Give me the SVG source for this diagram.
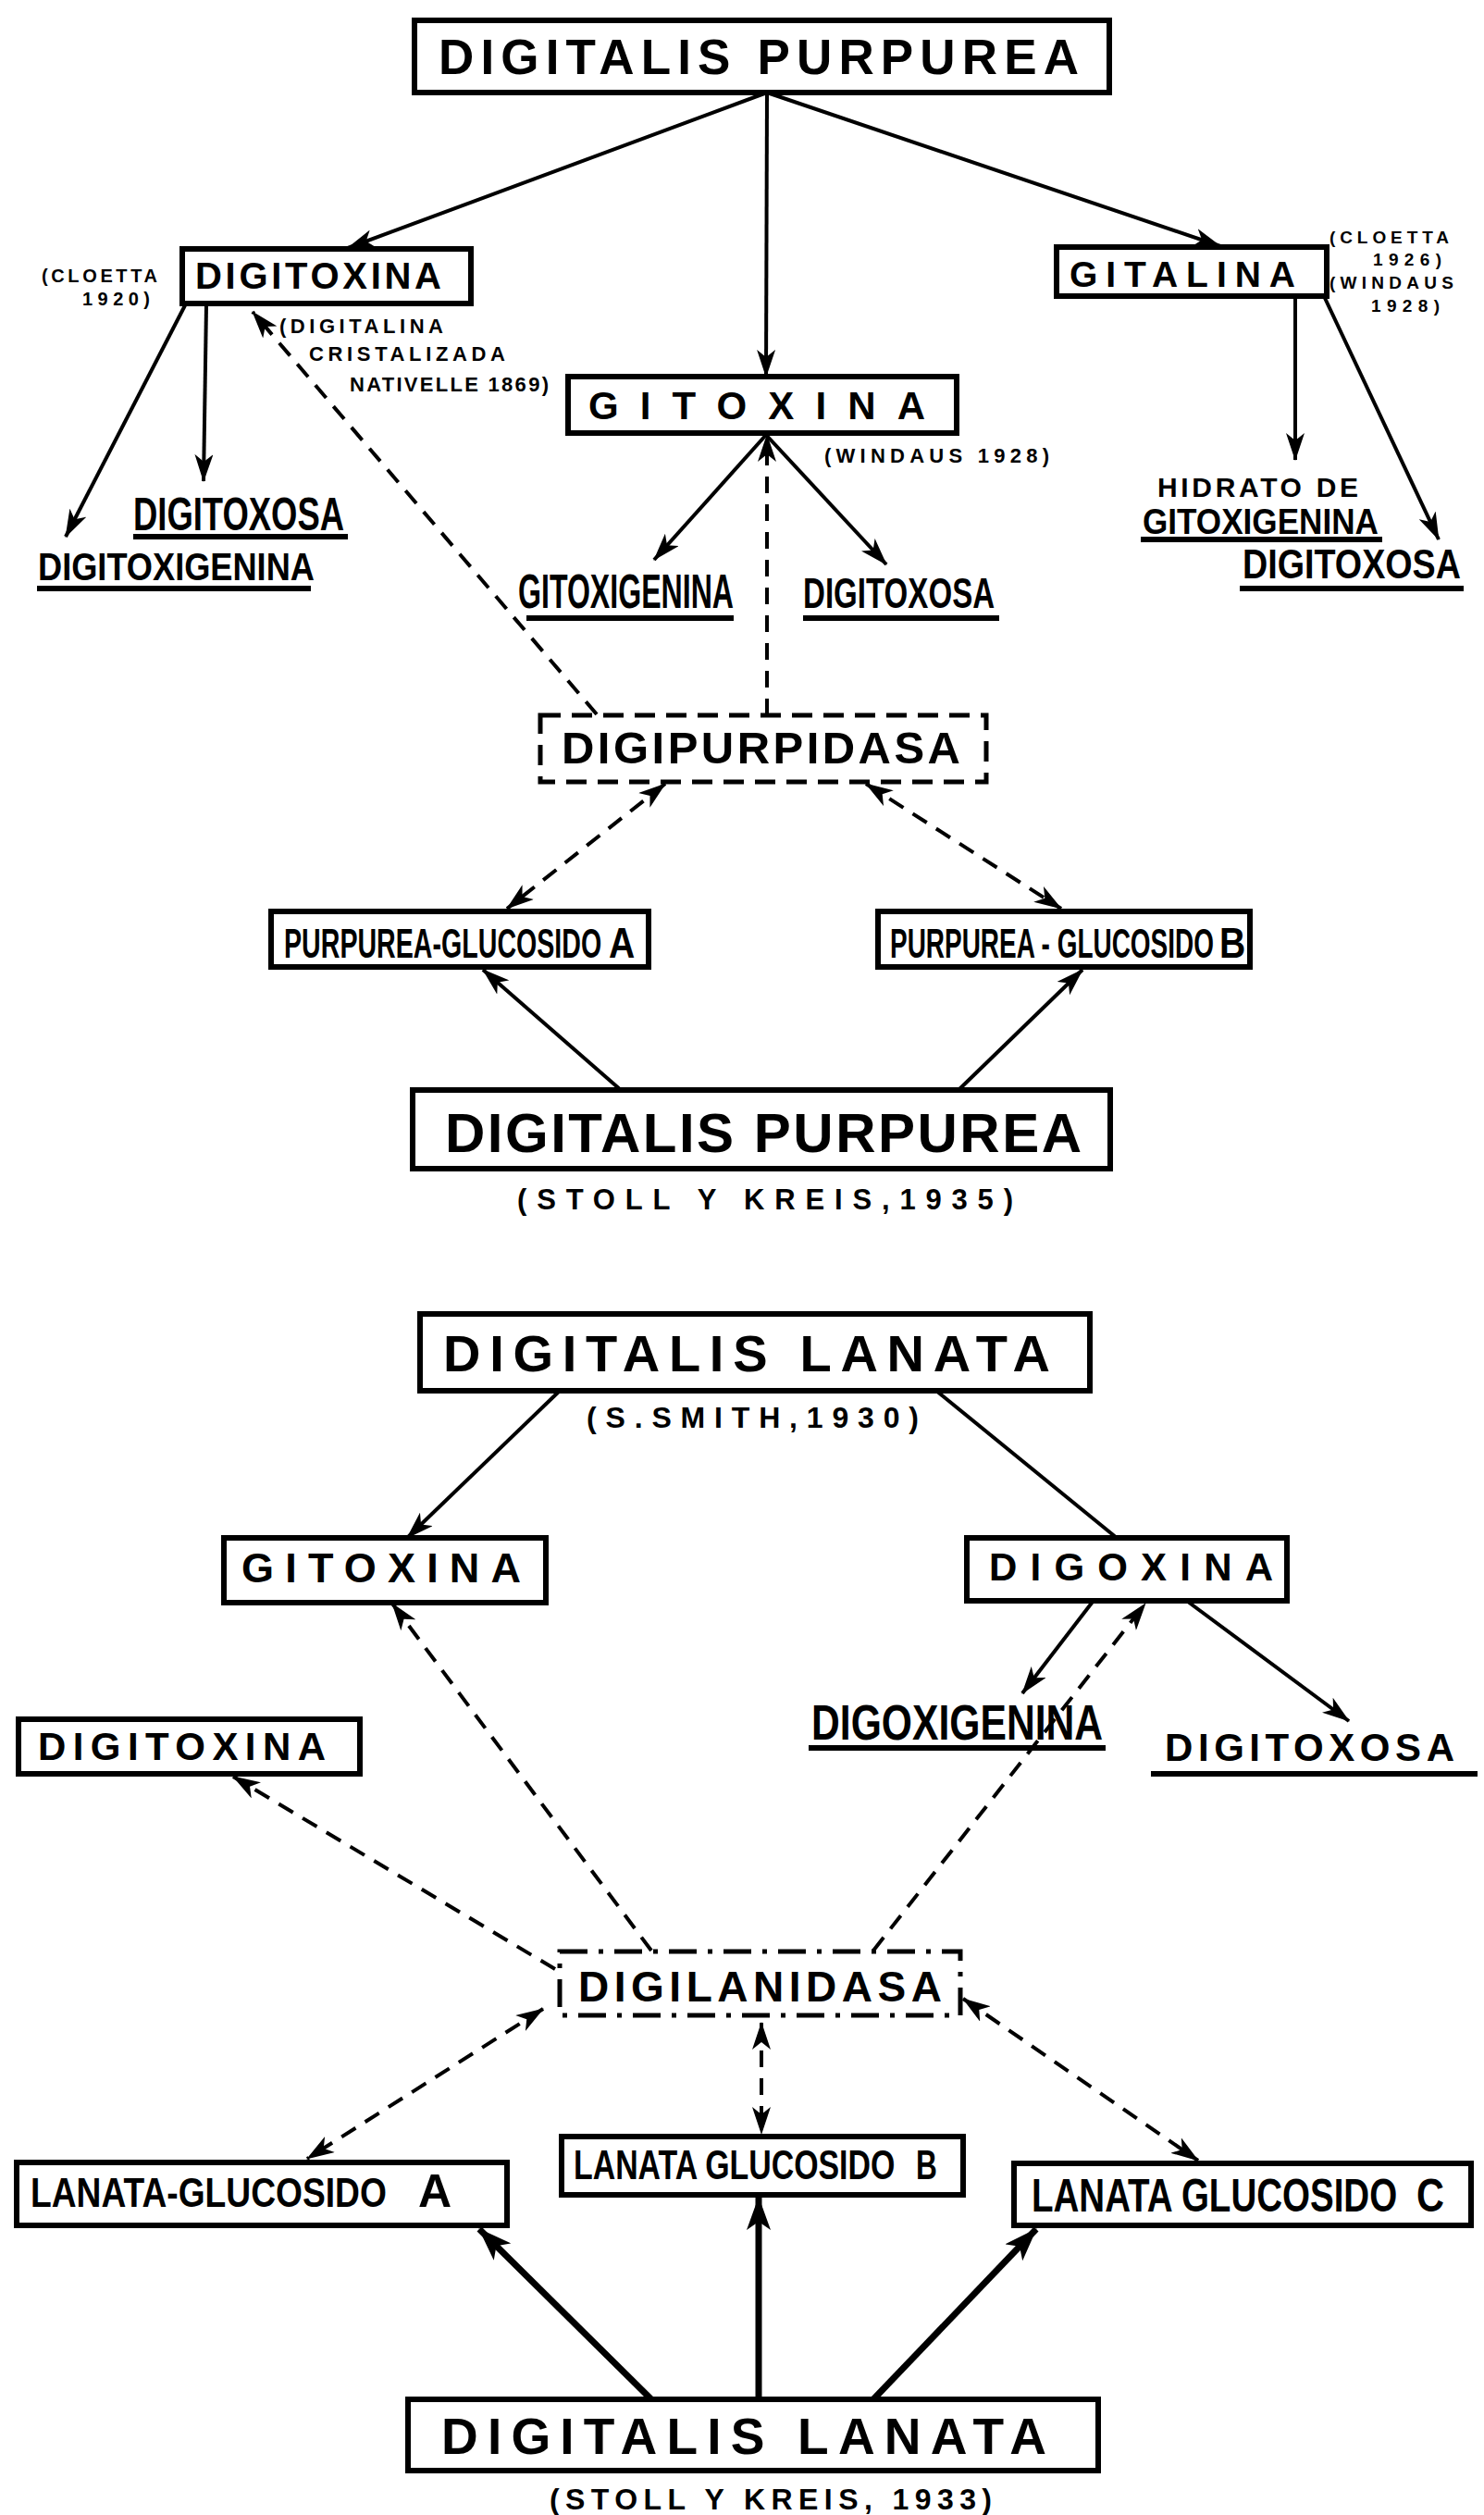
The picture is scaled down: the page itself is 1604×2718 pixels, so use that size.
<svg xmlns="http://www.w3.org/2000/svg" width="1604" height="2718" viewBox="0 0 1604 2718">
<style>
.t{font-family:"Liberation Sans","DejaVu Sans",Arial,sans-serif;font-weight:bold;fill:#000}
.box{fill:none;stroke:#000;stroke-width:6}
.dbox{fill:none;stroke:#000;stroke-width:5;stroke-dasharray:22 12}
.ddbox{fill:none;stroke:#000;stroke-width:5;stroke-dasharray:30 12 5 12}
.ln{fill:none;stroke:#000;stroke-width:4}
.thick{stroke-width:7}
.dash{stroke-dasharray:18 12}
.ul{stroke:#000;stroke-width:6}
</style>
<defs>
<marker id="ah" viewBox="0 0 30 20" refX="29" refY="10" markerWidth="30" markerHeight="20" markerUnits="userSpaceOnUse" orient="auto-start-reverse">
<path d="M0,0 L30,10 L0,20 L8,10 z" fill="#000"/>
</marker>
<marker id="ahb" viewBox="0 0 36 26" refX="35" refY="13" markerWidth="36" markerHeight="26" markerUnits="userSpaceOnUse" orient="auto-start-reverse">
<path d="M0,0 L36,13 L0,26 L9,13 z" fill="#000"/>
</marker>
</defs>
<rect width="1604" height="2718" fill="#fff"/>

<g id="connectors">
<line class="ln" x1="829" y1="100" x2="376" y2="268" marker-end="url(#ah)"/>
<line class="ln" x1="829" y1="100" x2="828" y2="407" marker-end="url(#ah)"/>
<line class="ln" x1="829" y1="100" x2="1319" y2="266" marker-end="url(#ah)"/>
<line class="ln" x1="200" y1="330" x2="71" y2="580" marker-end="url(#ah)"/>
<line class="ln" x1="223" y1="330" x2="220" y2="520" marker-end="url(#ah)"/>
<line class="ln dash" x1="645" y1="772" x2="273" y2="337" marker-end="url(#ah)"/>
<line class="ln" x1="828" y1="470" x2="707" y2="605" marker-end="url(#ah)"/>
<line class="ln" x1="828" y1="470" x2="958" y2="610" marker-end="url(#ah)"/>
<line class="ln dash" x1="829" y1="773" x2="829" y2="470" marker-end="url(#ah)"/>
<line class="ln" x1="1400" y1="320" x2="1400" y2="497" marker-end="url(#ah)"/>
<line class="ln" x1="1431" y1="320" x2="1555" y2="583" marker-end="url(#ah)"/>
<line class="ln dash" x1="719" y1="847" x2="548" y2="982" marker-start="url(#ah)" marker-end="url(#ah)"/>
<line class="ln dash" x1="936" y1="847" x2="1147" y2="982" marker-start="url(#ah)" marker-end="url(#ah)"/>
<line class="ln" x1="671" y1="1178" x2="522" y2="1048" marker-end="url(#ah)"/>
<line class="ln" x1="1036" y1="1178" x2="1170" y2="1048" marker-end="url(#ah)"/>
<line class="ln" x1="605" y1="1503" x2="440" y2="1662" marker-end="url(#ah)"/>
<line class="ln" x1="1012" y1="1503" x2="1207" y2="1662"/>
<line class="ln dash" x1="704" y1="2108" x2="424" y2="1733" marker-end="url(#ah)"/>
<line class="ln dash" x1="944" y1="2108" x2="1238" y2="1733" marker-end="url(#ah)"/>
<line class="ln" x1="1181" y1="1731" x2="1105" y2="1830" marker-end="url(#ah)"/>
<line class="ln" x1="1284" y1="1731" x2="1458" y2="1860" marker-end="url(#ah)"/>
<line class="ln dash" x1="600" y1="2128" x2="252" y2="1920" marker-end="url(#ah)"/>
<line class="ln dash" x1="587" y1="2171" x2="332" y2="2333" marker-start="url(#ah)" marker-end="url(#ah)"/>
<line class="ln dash" x1="823" y1="2186" x2="823" y2="2306" marker-start="url(#ah)" marker-end="url(#ah)"/>
<line class="ln dash" x1="1041" y1="2160" x2="1295" y2="2335" marker-start="url(#ah)" marker-end="url(#ah)"/>
<line class="ln thick" x1="704" y1="2593" x2="518" y2="2409" marker-end="url(#ahb)"/>
<line class="ln thick" x1="820" y1="2593" x2="820" y2="2375" marker-end="url(#ahb)"/>
<line class="ln thick" x1="944" y1="2593" x2="1120" y2="2409" marker-end="url(#ahb)"/>
</g>

<g id="n-digitalis-purpurea-top">
<rect class="box" x="448" y="22" width="751" height="78"/>
<text class="t" x="474" y="80" font-size="53" textLength="692" lengthAdjust="spacing">DIGITALIS PURPUREA</text>
</g>

<g id="n-digitoxina-top">
<rect class="box" x="197" y="269" width="312" height="59"/>
<text class="t" x="211" y="312" font-size="40" textLength="266" lengthAdjust="spacing">DIGITOXINA</text>
</g>
<g id="note-cloetta-1920">
<text class="t" x="45" y="305" font-size="20" textLength="125" lengthAdjust="spacing">(CLOETTA</text>
<text class="t" x="89" y="330" font-size="20" textLength="73" lengthAdjust="spacing">1920)</text>
</g>
<g id="note-digitalina">
<text class="t" x="302" y="360" font-size="22" textLength="177" lengthAdjust="spacing">(DIGITALINA</text>
<text class="t" x="334" y="390" font-size="22" textLength="212" lengthAdjust="spacing">CRISTALIZADA</text>
<text class="t" x="378" y="423" font-size="22" textLength="215" lengthAdjust="spacing">NATIVELLE 1869)</text>
</g>

<g id="n-gitoxina-top">
<rect class="box" x="614" y="407" width="420" height="61"/>
<text class="t" x="636" y="453" font-size="42" textLength="364" lengthAdjust="spacing">GITOXINA</text>
</g>
<g id="note-windaus-1928">
<text class="t" x="891" y="500" font-size="22" textLength="243" lengthAdjust="spacing">(WINDAUS 1928)</text>
</g>

<g id="n-gitalina">
<rect class="box" x="1142" y="267" width="292" height="53"/>
<text class="t" x="1156" y="310" font-size="39" textLength="244" lengthAdjust="spacing">GITALINA</text>
</g>
<g id="note-cloetta-windaus">
<text class="t" x="1437" y="263" font-size="19" textLength="129" lengthAdjust="spacing">(CLOETTA</text>
<text class="t" x="1484" y="287" font-size="19" textLength="74" lengthAdjust="spacing">1926)</text>
<text class="t" x="1437" y="312" font-size="19" textLength="134" lengthAdjust="spacing">(WINDAUS</text>
<text class="t" x="1482" y="337" font-size="19" textLength="74" lengthAdjust="spacing">1928)</text>
</g>

<g id="n-digitoxosa-left">
<text class="t" transform="translate(144,573) scale(0.726,1)" font-size="50" textLength="314" lengthAdjust="spacingAndGlyphs">DIGITOXOSA</text>
<line class="ul" x1="144" y1="580" x2="376" y2="580"/>
</g>
<g id="n-digitoxigenina">
<text class="t" transform="translate(41,627) scale(0.859,1)" font-size="42" textLength="348" lengthAdjust="spacingAndGlyphs">DIGITOXIGENINA</text>
<line class="ul" x1="40" y1="636" x2="336" y2="636"/>
</g>
<g id="n-gitoxigenina">
<text class="t" transform="translate(560,657) scale(0.628,1)" font-size="51" textLength="371" lengthAdjust="spacingAndGlyphs">GITOXIGENINA</text>
<line class="ul" x1="569" y1="668" x2="793" y2="668"/>
</g>
<g id="n-digitoxosa-mid">
<text class="t" transform="translate(868,657) scale(0.702,1)" font-size="47" textLength="295" lengthAdjust="spacingAndGlyphs">DIGITOXOSA</text>
<line class="ul" x1="868" y1="668" x2="1080" y2="668"/>
</g>
<g id="n-hidrato">
<text class="t" x="1251" y="537" font-size="30" textLength="217" lengthAdjust="spacing">HIDRATO DE</text>
<text class="t" transform="translate(1235,577) scale(0.92,1)" font-size="38" textLength="277" lengthAdjust="spacingAndGlyphs">GITOXIGENINA</text>
<line class="ul" x1="1233" y1="583" x2="1494" y2="583"/>
</g>
<g id="n-digitoxosa-right">
<text class="t" transform="translate(1343,625) scale(0.855,1)" font-size="44" textLength="276" lengthAdjust="spacingAndGlyphs">DIGITOXOSA</text>
<line class="ul" x1="1340" y1="636" x2="1582" y2="636"/>
</g>

<g id="n-digipurpidasa">
<rect class="dbox" x="584" y="773" width="482" height="72"/>
<text class="t" x="607" y="825" font-size="49" textLength="431" lengthAdjust="spacing">DIGIPURPIDASA</text>
</g>

<g id="n-purpurea-glucosido-a">
<rect class="box" x="293" y="985" width="408" height="60"/>
<text class="t" transform="translate(307,1035) scale(0.65,1)" font-size="44" textLength="528" lengthAdjust="spacingAndGlyphs">PURPUREA-GLUCOSIDO</text>
<text class="t" transform="translate(658,1035) scale(0.85,1)" font-size="46">A</text>
</g>
<g id="n-purpurea-glucosido-b">
<rect class="box" x="949" y="985" width="402" height="60"/>
<text class="t" transform="translate(962,1035) scale(0.634,1)" font-size="44" textLength="552" lengthAdjust="spacingAndGlyphs">PURPUREA - GLUCOSIDO</text>
<text class="t" transform="translate(1318,1035) scale(0.85,1)" font-size="46">B</text>
</g>

<g id="n-digitalis-purpurea-bottom">
<rect class="box" x="446" y="1178" width="754" height="85"/>
<text class="t" x="481" y="1245" font-size="60" textLength="688" lengthAdjust="spacing">DIGITALIS PURPUREA</text>
<text class="t" x="559" y="1307" font-size="31" textLength="536" lengthAdjust="spacing">(STOLL Y KREIS,1935)</text>
</g>

<g id="n-digitalis-lanata-top">
<rect class="box" x="454" y="1420" width="724" height="83"/>
<text class="t" x="479" y="1482" font-size="56" textLength="656" lengthAdjust="spacing">DIGITALIS  LANATA</text>
<text class="t" x="634" y="1543" font-size="32" textLength="359" lengthAdjust="spacing">(S.SMITH,1930)</text>
</g>

<g id="n-gitoxina-bottom">
<rect class="box" x="242" y="1662" width="348" height="70"/>
<text class="t" x="261" y="1710" font-size="45" textLength="302" lengthAdjust="spacing">GITOXINA</text>
</g>
<g id="n-digoxina">
<rect class="box" x="1045" y="1662" width="346" height="68"/>
<text class="t" x="1069" y="1708" font-size="42" textLength="307" lengthAdjust="spacing">DIGOXINA</text>
</g>
<g id="n-digoxigenina">
<text class="t" transform="translate(877,1880) scale(0.804,1)" font-size="53" textLength="392" lengthAdjust="spacingAndGlyphs">DIGOXIGENINA</text>
<line class="ul" x1="874" y1="1889" x2="1195" y2="1889"/>
</g>
<g id="n-digitoxosa-bottom">
<text class="t" x="1259" y="1903" font-size="42" textLength="313" lengthAdjust="spacing">DIGITOXOSA</text>
<line class="ul" x1="1244" y1="1917" x2="1597" y2="1917" stroke-width="8"/>
</g>
<g id="n-digitoxina-bottom">
<rect class="box" x="20" y="1858" width="369" height="59"/>
<text class="t" x="41" y="1902" font-size="42" textLength="311" lengthAdjust="spacing">DIGITOXINA</text>
</g>

<g id="n-digilanidasa">
<rect class="ddbox" x="605" y="2109" width="433" height="69"/>
<text class="t" x="625" y="2163" font-size="46" textLength="393" lengthAdjust="spacing">DIGILANIDASA</text>
</g>

<g id="n-lanata-glucosido-a">
<rect class="box" x="18" y="2337" width="530" height="68"/>
<text class="t" transform="translate(33,2385) scale(0.833,1)" font-size="44" textLength="462" lengthAdjust="spacingAndGlyphs">LANATA-GLUCOSIDO</text>
<text class="t" x="452" y="2385" font-size="50">A</text>
</g>
<g id="n-lanata-glucosido-b">
<rect class="box" x="607" y="2309" width="434" height="63"/>
<text class="t" transform="translate(620,2355) scale(0.755,1)" font-size="44" textLength="460" lengthAdjust="spacingAndGlyphs">LANATA GLUCOSIDO</text>
<text class="t" transform="translate(990,2355) scale(0.72,1)" font-size="44">B</text>
</g>
<g id="n-lanata-glucosido-c">
<rect class="box" x="1096" y="2338" width="494" height="67"/>
<text class="t" transform="translate(1115,2390) scale(0.757,1)" font-size="50" textLength="522" lengthAdjust="spacingAndGlyphs">LANATA GLUCOSIDO</text>
<text class="t" transform="translate(1531,2390) scale(0.83,1)" font-size="50">C</text>
</g>

<g id="n-digitalis-lanata-bottom">
<rect class="box" x="441" y="2593" width="746" height="77"/>
<text class="t" x="477" y="2652" font-size="55" textLength="654" lengthAdjust="spacing">DIGITALIS  LANATA</text>
<text class="t" x="594" y="2712" font-size="32" textLength="478" lengthAdjust="spacing">(STOLL Y KREIS, 1933)</text>
</g>
</svg>
